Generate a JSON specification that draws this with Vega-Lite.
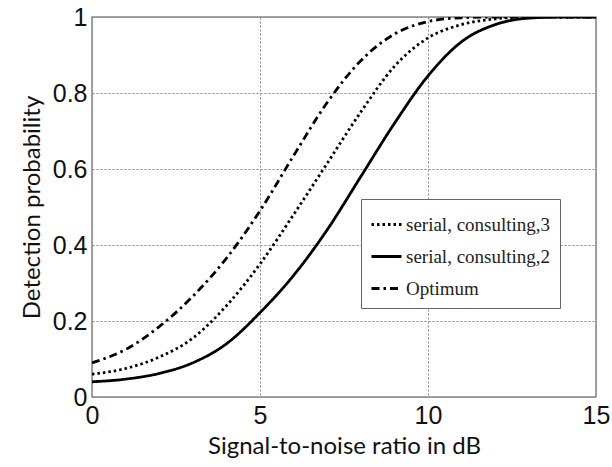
{
  "$schema": "https://vega.github.io/schema/vega-lite/v6.json",
  "width": 504,
  "height": 380,
  "autosize": "none",
  "padding": {"left": 92, "top": 17, "right": 16, "bottom": 70},
  "background": "white",
  "config": {
    "view": {"stroke": "#888888", "strokeWidth": 1.5},
    "axis": {
      "grid": true,
      "gridDash": [2, 2],
      "gridColor": "#888888",
      "gridOpacity": 1,
      "gridWidth": 1,
      "domain": false,
      "ticks": false,
      "labelFont": "Liberation Sans",
      "labelFontSize": 25,
      "labelColor": "#111111",
      "titleFont": "Lato",
      "titleFontSize": 24,
      "titleFontWeight": "normal",
      "titleColor": "#111111"
    }
  },
  "data": {
    "values": [
      {"x": 0, "p": 0.09, "series": "Optimum"},
      {"x": 1, "p": 0.125, "series": "Optimum"},
      {"x": 2, "p": 0.185, "series": "Optimum"},
      {"x": 3, "p": 0.265, "series": "Optimum"},
      {"x": 4, "p": 0.365, "series": "Optimum"},
      {"x": 5, "p": 0.49, "series": "Optimum"},
      {"x": 6, "p": 0.635, "series": "Optimum"},
      {"x": 7, "p": 0.775, "series": "Optimum"},
      {"x": 8, "p": 0.885, "series": "Optimum"},
      {"x": 9, "p": 0.955, "series": "Optimum"},
      {"x": 10, "p": 0.988, "series": "Optimum"},
      {"x": 11, "p": 0.998, "series": "Optimum"},
      {"x": 12, "p": 1, "series": "Optimum"},
      {"x": 13, "p": 1, "series": "Optimum"},
      {"x": 14, "p": 1, "series": "Optimum"},
      {"x": 15, "p": 1, "series": "Optimum"},
      {"x": 0, "p": 0.06, "series": "serial, consulting,3"},
      {"x": 1, "p": 0.075, "series": "serial, consulting,3"},
      {"x": 2, "p": 0.105, "series": "serial, consulting,3"},
      {"x": 3, "p": 0.155, "series": "serial, consulting,3"},
      {"x": 4, "p": 0.24, "series": "serial, consulting,3"},
      {"x": 5, "p": 0.35, "series": "serial, consulting,3"},
      {"x": 6, "p": 0.48, "series": "serial, consulting,3"},
      {"x": 7, "p": 0.615, "series": "serial, consulting,3"},
      {"x": 8, "p": 0.75, "series": "serial, consulting,3"},
      {"x": 9, "p": 0.87, "series": "serial, consulting,3"},
      {"x": 10, "p": 0.945, "series": "serial, consulting,3"},
      {"x": 11, "p": 0.98, "series": "serial, consulting,3"},
      {"x": 12, "p": 0.995, "series": "serial, consulting,3"},
      {"x": 13, "p": 1, "series": "serial, consulting,3"},
      {"x": 14, "p": 1, "series": "serial, consulting,3"},
      {"x": 15, "p": 1, "series": "serial, consulting,3"},
      {"x": 0, "p": 0.04, "series": "serial, consulting,2"},
      {"x": 1, "p": 0.047, "series": "serial, consulting,2"},
      {"x": 2, "p": 0.062, "series": "serial, consulting,2"},
      {"x": 3, "p": 0.09, "series": "serial, consulting,2"},
      {"x": 4, "p": 0.14, "series": "serial, consulting,2"},
      {"x": 5, "p": 0.222, "series": "serial, consulting,2"},
      {"x": 6, "p": 0.32, "series": "serial, consulting,2"},
      {"x": 7, "p": 0.44, "series": "serial, consulting,2"},
      {"x": 8, "p": 0.58, "series": "serial, consulting,2"},
      {"x": 9, "p": 0.72, "series": "serial, consulting,2"},
      {"x": 10, "p": 0.845, "series": "serial, consulting,2"},
      {"x": 11, "p": 0.935, "series": "serial, consulting,2"},
      {"x": 12, "p": 0.98, "series": "serial, consulting,2"},
      {"x": 13, "p": 0.997, "series": "serial, consulting,2"},
      {"x": 14, "p": 1, "series": "serial, consulting,2"},
      {"x": 15, "p": 1, "series": "serial, consulting,2"}
    ]
  },
  "mark": {"type": "line", "interpolate": "monotone", "color": "black", "strokeWidth": 2.8, "clip": true},
  "encoding": {
    "x": {
      "field": "x",
      "type": "quantitative",
      "scale": {"domain": [0, 15], "nice": false, "zero": false},
      "axis": {"values": [0, 5, 10, 15], "title": "Signal-to-noise ratio in dB", "labelPadding": 6, "titlePadding": 6, "labelFlush": false}
    },
    "y": {
      "field": "p",
      "type": "quantitative",
      "scale": {"domain": [0, 1], "nice": false},
      "axis": {"values": [0, 0.2, 0.4, 0.6, 0.8, 1], "labelExpr": "datum.value == 0 ? '0' : datum.value == 1 ? '1' : format(datum.value, '.1f')", "title": "Detection probability", "labelPadding": 5, "titlePadding": 8, "labelFlush": false}
    },
    "strokeDash": {
      "field": "series",
      "type": "nominal",
      "scale": {
        "domain": ["serial, consulting,3", "serial, consulting,2", "Optimum"],
        "range": [[2.5, 3], [1, 0], [8, 4, 2.5, 4]]
      },
      "legend": {
        "title": null,
        "orient": "none",
        "legendX": 269,
        "legendY": 182,
        "symbolType": "stroke",
        "symbolSize": 900,
        "symbolStrokeWidth": 2.8,
        "symbolStrokeColor": "black",
        "labelFont": "Liberation Serif",
        "labelFontSize": 19,
        "labelColor": "#222222",
        "labelOffset": 3,
        "rowPadding": 5,
        "padding": 9,
        "fillColor": "white",
        "strokeColor": "#666666"
      }
    }
  }
}
